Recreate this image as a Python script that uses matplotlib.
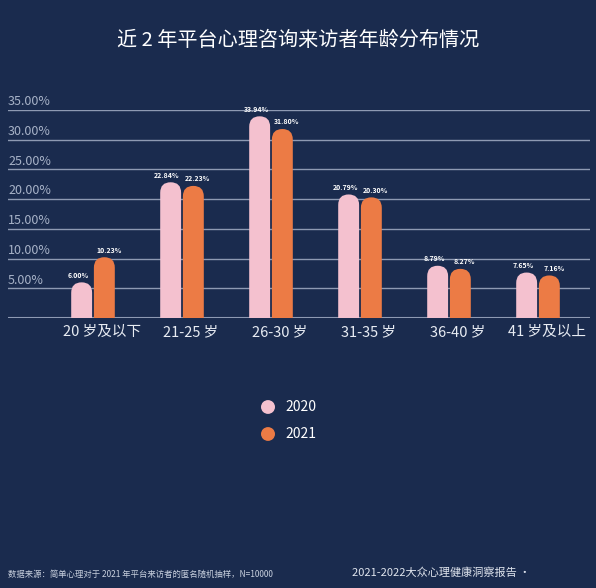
import matplotlib.pyplot as plt
from matplotlib.patches import FancyBboxPatch

plt.rcParams['font.family'] = ['Noto Sans CJK SC', 'DejaVu Sans']

categories = ['20 岁及以下', '21-25 岁', '26-30 岁', '31-35 岁', '36-40 岁', '41 岁及以上']
v2020 = [6.00, 22.84, 33.94, 20.79, 8.79, 7.65]
v2021 = [10.23, 22.23, 31.80, 20.30, 8.27, 7.16]
yticks = [5, 10, 15, 20, 25, 30, 35]

bg = '#1a2b4e'
pink = '#f4c1cf'
orange = '#ec7b45'
W, H = 596, 588

fig = plt.figure(figsize=(W / 100, H / 100), dpi=100, facecolor=bg)
ax = fig.add_axes([8 / W, 1 - 318 / H, 582 / W, 208 / H])
ax.set_facecolor(bg)
x0 = (8 - 93) / 89
x1 = (590 - 93) / 89
ax.set_xlim(x0, x1)
ax.set_ylim(0, 35)
for s in ax.spines.values():
    s.set_visible(False)
ax.set_xticks([])
ax.set_yticks([])

for t in yticks:
    ax.axhline(t, color='#8e9ab3', lw=1, zorder=1)
    ax.text(x0, t + 0.3, '%.2f%%' % t, color='#a8b3c8', fontsize=9, ha='left', va='bottom')
ax.axhline(0, color='#8e9ab3', lw=1.5, zorder=1)

bw = 0.235
aspect = (35 / 208) / (1 / 89)
r = bw / 2
for i, (a, b) in enumerate(zip(v2020, v2021)):
    for xc, v, c, dx in [(i - bw / 2 - 0.01, a, pink, -0.04), (i + bw / 2 + 0.01, b, orange, 0.05)]:
        p = FancyBboxPatch((xc - bw / 2, -3), bw, v + 3,
                           boxstyle='round,pad=0,rounding_size=%f' % r,
                           mutation_aspect=aspect, fc=c, ec='none', zorder=3)
        ax.add_patch(p)
        ax.text(xc + dx, v + 0.6, '%.2f%%' % v, color='white', fontsize=5,
                fontweight='bold', ha='center', va='bottom', zorder=4)
    ax.text(i + 0.1, -1.2, categories[i], color='#e8ecf3', fontsize=10.5,
            ha='center', va='top')

fig.text(0.5, 1 - 40 / H, '近 2 年平台心理咨询来访者年龄分布情况', color='white',
         fontsize=14.5, ha='center', va='center')

for yy, lab, c in [(407, '2020', pink), (434, '2021', orange)]:
    fig.patches.append(plt.Circle((268 / W, 1 - yy / H), 7 / W, transform=fig.transFigure,
                                  fc=c, ec='none'))
    fig.text(285 / W, 1 - yy / H, lab, color='white', fontsize=10, va='center')

fig.text(8 / W, 1 - 574 / H, '数据来源：简单心理对于 2021 年平台来访者的匿名随机抽样，N=10000',
         color='#c8d0de', fontsize=6, va='center')
fig.text(352 / W, 1 - 573 / H, '2021-2022大众心理健康洞察报告 · ', color='#e0e5ee',
         fontsize=8, va='center')

fig.savefig('out.png', dpi=100, facecolor=bg)
